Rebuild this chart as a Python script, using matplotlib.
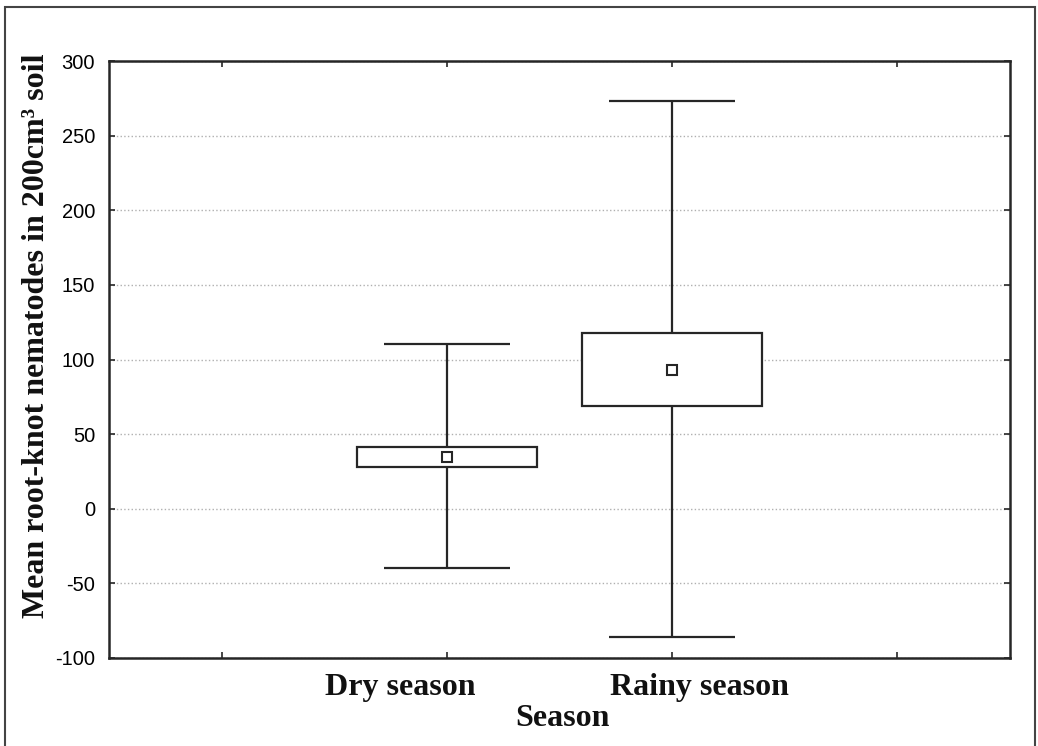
import numpy as np
import matplotlib
matplotlib.use('Agg')
import matplotlib.pyplot as plt
from matplotlib.patches import Rectangle

plt.rcParams['axes.unicode_minus'] = False

# values (mean, box = mean +/- SE, whiskers)
seasons = ['Dry season', 'Rainy season']
means = [34.5, 93.0]
box_low = [28.2, 68.8]
box_high = [41.6, 117.8]
whisk_low = [-39.7, -85.9]
whisk_high = [110.4, 273.2]
yticks = [-100, -50, 0, 50, 100, 150, 200, 250, 300]

line_col = '#262626'
serif = ['Liberation Serif', 'DejaVu Serif']

fig = plt.figure(figsize=(10.38, 7.46), dpi=100)
ax = fig.add_axes([0.105, 0.118, 0.868, 0.8])

x = np.array([1.5, 2.5])
ax.vlines(x, whisk_low, whisk_high, color=line_col, lw=1.6, zorder=2)
ax.hlines(whisk_low, x - 0.28, x + 0.28, color=line_col, lw=1.6, zorder=2)
ax.hlines(whisk_high, x - 0.28, x + 0.28, color=line_col, lw=1.6, zorder=2)
ax.bar(x, np.array(box_high) - np.array(box_low), bottom=box_low, width=0.8,
       facecolor='white', edgecolor=line_col, lw=1.6, zorder=3)
ax.plot(x, means, 's', mfc='white', mec=line_col, mew=1.5, ms=7, zorder=4)

ax.set_xlim(0, 4)
ax.set_ylim(-100, 300)
ax.set_yticks(yticks)
ax.set_xticks([0.5, 1.5, 2.5, 3.5])
ax.set_xticklabels([])
ax.yaxis.grid(True, linestyle=':', color='#b0b0b0', lw=1)
ax.set_axisbelow(True)
ax.tick_params(direction='in', length=4, width=1.2, top=True, right=True,
               colors=line_col, pad=10)
for lab in ax.get_yticklabels():
    lab.set_fontfamily('Liberation Sans')
    lab.set_fontsize(14.5)
    lab.set_color('black')
for sp in ax.spines.values():
    sp.set_linewidth(1.8)
    sp.set_color(line_col)

# category labels sit a bit off the ticks in the original
fig.text(0.386, 0.078, seasons[0], ha='center', va='center', family=serif,
         fontsize=23, fontweight='bold', color='#111111')
fig.text(0.674, 0.078, seasons[1], ha='center', va='center', family=serif,
         fontsize=23, fontweight='bold', color='#111111')
fig.text(0.542, 0.0375, 'Season', ha='center', va='center', family=serif,
         fontsize=23, fontweight='bold', color='#111111')
fig.text(0.035, 0.55, 'Mean root-knot nematodes in 200cm³ soil', rotation=90,
         ha='center', va='center', family=serif, fontsize=23,
         fontweight='bold', color='#111111')

# frame around the whole picture
fig.patches.append(Rectangle((5 / 1038, -0.02), 1030 / 1038, 1 - 7 / 746 + 0.02,
                             transform=fig.transFigure, fill=False,
                             edgecolor='#444444', lw=1.5))

fig.savefig('out.png', dpi=100)
